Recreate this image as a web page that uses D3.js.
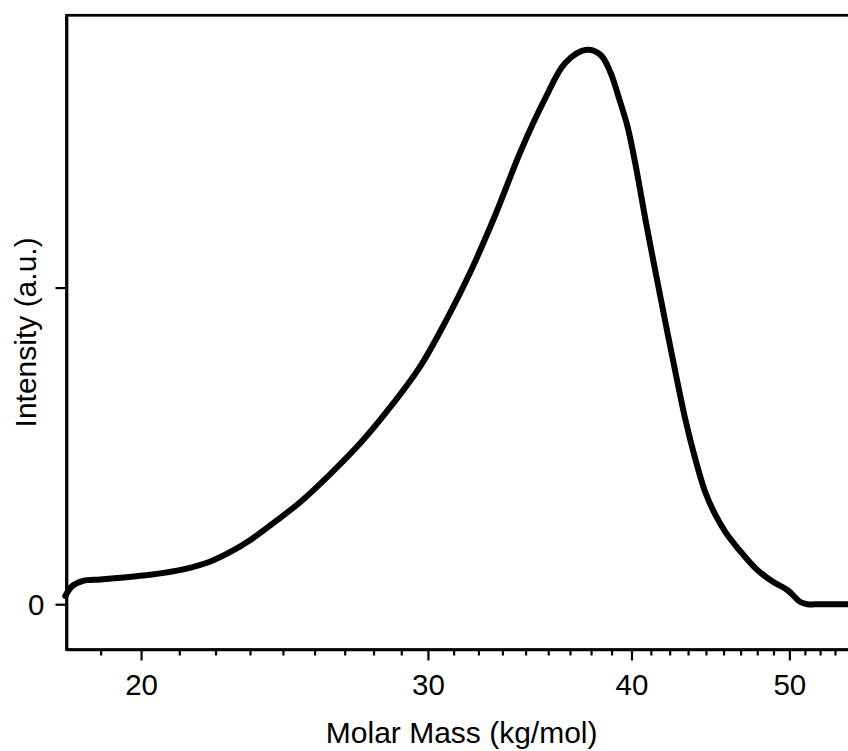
<!DOCTYPE html>
<html>
<head>
<meta charset="utf-8">
<script src="https://cdn.jsdelivr.net/npm/d3@7"></script>
<style>
  body { margin: 0; background: white; }
  text { font-family: "Liberation Sans", Arial, Helvetica, sans-serif; fill: black; }
</style>
</head>
<body>
<script>
// molar mass (kg/mol) and intensity (a.u.)
const mass = [17.97, 18.15, 18.43, 18.88, 19.34, 20.26, 21.23, 22.06, 22.69, 23.34,
              24.35, 25.05, 26.14, 27.27, 28.45, 29.69, 30.75, 31.86, 33.00, 34.19,
              35.42, 36.43, 37.54, 38.29, 38.84, 39.28, 39.78, 40.23, 40.80, 41.38,
              41.97, 42.57, 43.17, 43.79, 44.41, 45.04, 45.68, 46.20, 46.85, 47.79,
              48.88, 49.86, 50.78, 51.29, 52.24, 55.00]
const intensity = [0.026, 0.058, 0.074, 0.078, 0.083, 0.093, 0.110, 0.135, 0.165, 0.203,
                   0.273, 0.323, 0.412, 0.509, 0.623, 0.753, 0.892, 1.050, 1.230, 1.429,
                   1.599, 1.710, 1.751, 1.735, 1.678, 1.602, 1.508, 1.388, 1.214, 1.050,
                   0.889, 0.731, 0.582, 0.456, 0.352, 0.282, 0.228, 0.194, 0.156, 0.108,
                   0.070, 0.045, 0.007, 0.000, 0.000, 0.000]

const xMajor = [20, 30, 40, 50]
const xMinor = [18.89, 21.11, 22.22, 23.33, 24.44, 25.56, 26.67, 27.78, 28.89,
                31.11, 32.22, 33.33, 34.44, 35.56, 36.67, 37.78, 38.89,
                41.11, 42.22, 43.33, 44.44, 45.56, 46.67, 47.78, 48.89,
                51.11, 52.22, 53.33, 54.44]
const yTicks = [0, 1]
const yLabels = ['0', '']

const [width, height] = [848, 751]
// "top" is taken by window.top, so the plot box gets its own names
const [pLeft, pRight, pTop, pBottom] = [66.5, 856.8, 15.3, 649.5]

const x = d3.scaleLog().domain([18, 55]).range([pLeft, pRight])
const y = d3.scaleLinear().domain([-0.143, 1.86]).range([pBottom, pTop])

const svg = d3.select('body')
    .append('svg')
        .attr('width', width)
        .attr('height', height)

// frame (right side falls outside the picture)
svg.append('rect')
    .attr('x', pLeft)
    .attr('y', pTop)
    .attr('width', pRight - pLeft)
    .attr('height', pBottom - pTop)
    .attr('fill', 'none')
    .attr('stroke', 'black')
    .attr('stroke-width', 2.7)

const xAxis = svg.append('g')
    .attr('transform', `translate(0,${pBottom})`)
    .call(d3.axisBottom(x).tickValues(xMajor).tickFormat(d3.format('d')).tickSize(11).tickSizeOuter(0))
xAxis.select('.domain').attr('stroke-width', 2.7)
xAxis.selectAll('.tick line').attr('stroke-width', 2.2)
xAxis.selectAll('.tick text').attr('font-size', 29.5).attr('dy', null).attr('y', 45)

const xMinorAxis = svg.append('g')
    .attr('transform', `translate(0,${pBottom})`)
    .call(d3.axisBottom(x).tickValues(xMinor).tickFormat('').tickSize(6).tickSizeOuter(0))
xMinorAxis.select('.domain').remove()
xMinorAxis.selectAll('.tick line').attr('stroke-width', 2.2)

const yAxis = svg.append('g')
    .attr('transform', `translate(${pLeft},0)`)
    .call(d3.axisLeft(y).tickValues(yTicks).tickFormat((d, i) => yLabels[i]).tickSize(11).tickSizeOuter(0))
yAxis.select('.domain').attr('stroke-width', 2.7)
yAxis.selectAll('.tick line').attr('stroke-width', 2.2)
yAxis.selectAll('.tick text').attr('font-size', 29.5).attr('x', -22).attr('dy', '0.36em')

svg.append('text')
    .attr('x', (pLeft + pRight) / 2)
    .attr('y', 743)
    .attr('text-anchor', 'middle')
    .attr('font-size', 30)
    .text('Molar Mass (kg/mol)')

svg.append('text')
    .attr('transform', `translate(36,${(pTop + pBottom) / 2}) rotate(-90)`)
    .attr('text-anchor', 'middle')
    .attr('font-size', 30)
    .text('Intensity (a.u.)')

const points = mass.map((m, i) => [m, intensity[i]])

svg.append('path')
    .datum(points)
    .attr('fill', 'none')
    .attr('stroke', 'black')
    .attr('stroke-width', 6)
    .attr('stroke-linejoin', 'round')
    .attr('stroke-linecap', 'round')
    .attr('d', d3.line()
        .x(d => x(d[0]))
        .y(d => y(d[1]))
        .curve(d3.curveCatmullRom.alpha(0.5)))
</script>
</body>
</html>
